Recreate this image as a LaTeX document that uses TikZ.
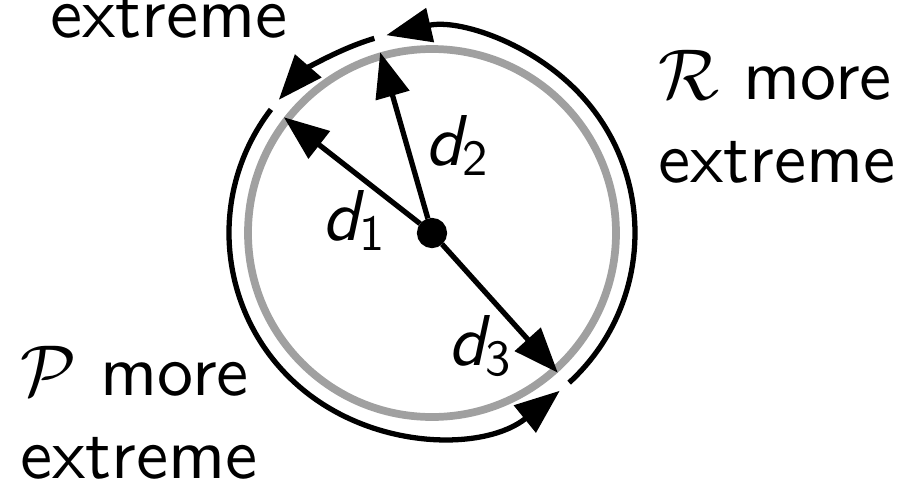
\RequirePackage{fix-cm}
\documentclass[tikz,border=0pt]{standalone}
\usepackage{tikz}
\usetikzlibrary{arrows.meta, positioning}
% sans serif of the 10pt design, scaled to any size
\DeclareFontFamily{OT1}{ssten}{}
\DeclareFontShape{OT1}{ssten}{m}{n}{<-> cmss10}{}
\DeclareFontShape{OT1}{ssten}{m}{sl}{<-> cmssi10}{}
\DeclareMathAlphabet{\mathsfsl}{OT1}{ssten}{m}{sl}
\DeclareMathAlphabet{\mathsften}{OT1}{ssten}{m}{n}
\definecolor{RimGray}{RGB}{160,160,160}

\begin{document}
\begin{tikzpicture}[
    txt/.style={font=\fontencoding{OT1}\fontfamily{ssten}\fontsize{20.5}{23.5}\selectfont,
                inner sep=0pt, align=left},
    dvec/.style={-{Triangle[length=4.5mm, width=3.4mm]}, line width=1.5pt},
    rim/.style={-{Triangle[length=4.5mm, width=3.4mm]}, line width=1.5pt}
  ]
  \useasboundingbox (-4.32,-2.57) rectangle (4.83,2.33);

  \draw[RimGray, line width=2.2pt] (0,0) circle (1.84);
  \node[circle, draw, fill=black, line width=1.2pt, inner sep=0pt,
        minimum size=2.6mm] (ctr) at (0,0) {};

  % distance vectors
  \foreach \ang/\nm in {142/d1, 106/d2, -48/d3} {
    \coordinate (\nm) at (\ang:1.88);
    \draw[dvec] (ctr) -- (\nm);
  }
  \node[txt, anchor=base west] (l1) at (-1.10,-0.07) {$\mathsfsl{d}_{\mathsften{1}}$};
  \node[txt, anchor=base west] (l2) at (-0.07,0.68)  {$\mathsfsl{d}_{\mathsften{2}}$};
  \node[txt, anchor=base west] (l3) at (0.16,-1.32)  {$\mathsfsl{d}_{\mathsften{3}}$};

  % outer arcs, broken at each vector
  \foreach \a/\b in {-48/106, 106/142, 142/312} {
    \draw[rim] (\a+0.5:2.03) arc[start angle=\a+0.5, end angle=\b-3, radius=2.03];
  }

  \node[txt, anchor=base west] (top) at (-3.82,1.96) {extreme};
  \node[txt, anchor=base west] (rx) at (2.26,0.51) {$\mathcal{R}$ more\\extreme};
  \node[txt, anchor=base west] (px) at (-4.12,-2.45) {$\mathcal{P}$ more\\extreme};
\end{tikzpicture}
\end{document}
